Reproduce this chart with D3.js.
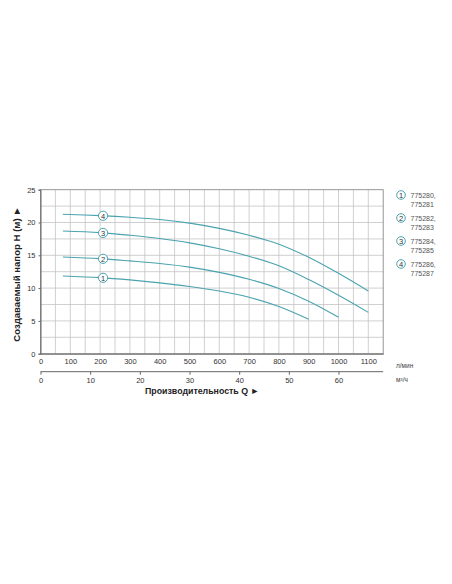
<!DOCTYPE html>
<html><head><meta charset="utf-8">
<script src="https://cdn.jsdelivr.net/npm/d3@7"></script>
<style>
html,body{margin:0;padding:0;background:#fff;}
text{font-family:"Liberation Sans",Arial,sans-serif;}
</style></head>
<body><svg id="c" width="452" height="584"></svg>
<script>
const flowQ = [75, 200, 300, 400, 500, 600, 700, 800, 900, 1000, 1100];
const curve1 = [11.85, 11.6, 11.25, 10.8, 10.25, 9.55, 8.6, 7.2, 5.25];
const curve2 = [14.75, 14.5, 14.15, 13.75, 13.2, 12.4, 11.35, 9.95, 8.0, 5.55];
const curve3 = [18.7, 18.45, 18.05, 17.55, 16.9, 16.0, 14.85, 13.4, 11.3, 8.9, 6.3];
const curve4 = [21.25, 21.05, 20.8, 20.45, 19.9, 19.1, 18.05, 16.7, 14.7, 12.25, 9.55];
const seriesNames = ["1", "2", "3", "4"];
const legendLabels = [["775280,", "775281"], ["775282,", "775283"], ["775284,", "775285"], ["775286,", "775287"]];
const xTicksLmin = [0,100,200,300,400,500,600,700,800,900,1000,1100];
const xTicksM3h = [0,10,20,30,40,50,60];
const yTicks = [0,5,10,15,20,25];
const labelQ = 210;

const svg = d3.select("#c");
const teal = "#4aa3ae";
const FF = "Liberation Sans, Arial, sans-serif";
const NARROW = "'Liberation Sans Narrow', 'Arial Narrow', 'Liberation Sans', sans-serif";
const x = d3.scaleLinear().domain([0,1150]).range([40.5,383.2]);
const y = d3.scaleLinear().domain([0,25]).range([353.7,189.7]);
const xm = d3.scaleLinear().domain([0,1150/16.6667]).range([40.5,383.2]);

// grid
const g = svg.append("g");
g.selectAll("line.v").data(d3.range(50,1150,50)).enter().append("line")
  .attr("x1",d=>x(d)).attr("x2",d=>x(d)).attr("y1",y(0)).attr("y2",y(25))
  .attr("stroke","#c4c4c4").attr("stroke-width",0.8);
g.selectAll("line.h").data(d3.range(2.5,25,2.5)).enter().append("line")
  .attr("x1",x(0)).attr("x2",x(1150)).attr("y1",d=>y(d)).attr("y2",d=>y(d))
  .attr("stroke","#c4c4c4").attr("stroke-width",0.8);
g.append("rect").attr("x",x(0)).attr("y",y(25)).attr("width",x(1150)-x(0)).attr("height",y(0)-y(25))
  .attr("fill","none").attr("stroke","#8a8a8a").attr("stroke-width",0.9);

// y axis
const ya = svg.append("g").attr("transform",`translate(${x(0)},0)`)
  .call(d3.axisLeft(y).tickValues(yTicks).tickSize(2).tickPadding(3));
ya.select(".domain").attr("stroke","#666");
ya.selectAll(".tick line").attr("stroke","#666");
ya.selectAll("text").attr("font-size","7.5px").attr("fill","#333").style("font-family",FF);

// x axis l/min
const xa = svg.append("g").attr("transform",`translate(0,${y(0)})`)
  .call(d3.axisBottom(x).tickValues(xTicksLmin).tickFormat(d3.format("d")).tickSize(0).tickPadding(5));
xa.select(".domain").attr("stroke","#666");
xa.selectAll("text").attr("font-size","7.5px").attr("fill","#333").style("font-family",FF);

// x axis m3/h
const xb = svg.append("g").attr("transform",`translate(0,371.7)`)
  .call(d3.axisBottom(xm).tickValues(xTicksM3h).tickFormat(d3.format("d")).tickSize(3).tickSizeOuter(0).tickPadding(3));
xb.select(".domain").attr("stroke","#666").attr("d",`M${x(0)},0H${x(1150)}`);
xb.selectAll(".tick line").attr("stroke","#666");
xb.selectAll("text").attr("font-size","7.5px").attr("fill","#333").style("font-family",FF);

svg.append("text").attr("x",396).attr("y",367.5).attr("font-size","6.5px").attr("fill","#444").text("л/мин");
svg.append("text").attr("x",396).attr("y",382).attr("font-size","6.5px").attr("fill","#444").text("м³/ч");

svg.append("text").attr("x",145).attr("y",394).attr("font-size","8.8px").attr("font-weight","bold").attr("fill","#222")
  .text("Производительность Q ►");
svg.append("text").attr("transform","translate(20,274) rotate(-90)").attr("text-anchor","middle")
  .attr("font-size","9.6px").attr("font-weight","bold").attr("fill","#222")
  .text("Создаваемый напор H (м) ►");

// curves
const curves = [curve1, curve2, curve3, curve4];
const line = d3.line().x(d=>x(d[0])).y(d=>y(d[1])).curve(d3.curveCatmullRom.alpha(0.5));
curves.forEach((c,i)=>{
  const pts = c.map((h,j)=>[flowQ[j],h]);
  svg.append("path").attr("d",line(pts)).attr("fill","none").attr("stroke",teal).attr("stroke-width",1.1);
  let h = c[0];
  for (let j=0;j<pts.length-1;j++){ if(labelQ>=pts[j][0]&&labelQ<=pts[j+1][0]){const t=(labelQ-pts[j][0])/(pts[j+1][0]-pts[j][0]);h=pts[j][1]+t*(pts[j+1][1]-pts[j][1]);} }
  svg.append("circle").attr("cx",x(labelQ)).attr("cy",y(h)).attr("r",4.6).attr("fill","#fff").attr("stroke",teal).attr("stroke-width",1);
  svg.append("text").attr("x",x(labelQ)).attr("y",y(h)+2.8).attr("text-anchor","middle").attr("font-size","7.5px").attr("fill","#333").text(seriesNames[i]);
});

// legend
legendLabels.forEach((lab,i)=>{
  const cy = 195 + i*23;
  svg.append("circle").attr("cx",401).attr("cy",cy).attr("r",4.3).attr("fill","#fff").attr("stroke",teal).attr("stroke-width",1);
  svg.append("text").attr("x",401).attr("y",cy+2.8).attr("text-anchor","middle").attr("font-size","7.5px").attr("fill","#333").text(seriesNames[i]);
  svg.append("text").attr("x",410.5).attr("y",cy+2.8).attr("font-size","7px").style("font-family",NARROW).attr("fill","#555").text(lab[0]);
  svg.append("text").attr("x",410.5).attr("y",cy+11.5).attr("font-size","7px").style("font-family",NARROW).attr("fill","#555").text(lab[1]);
});
</script></body></html>
